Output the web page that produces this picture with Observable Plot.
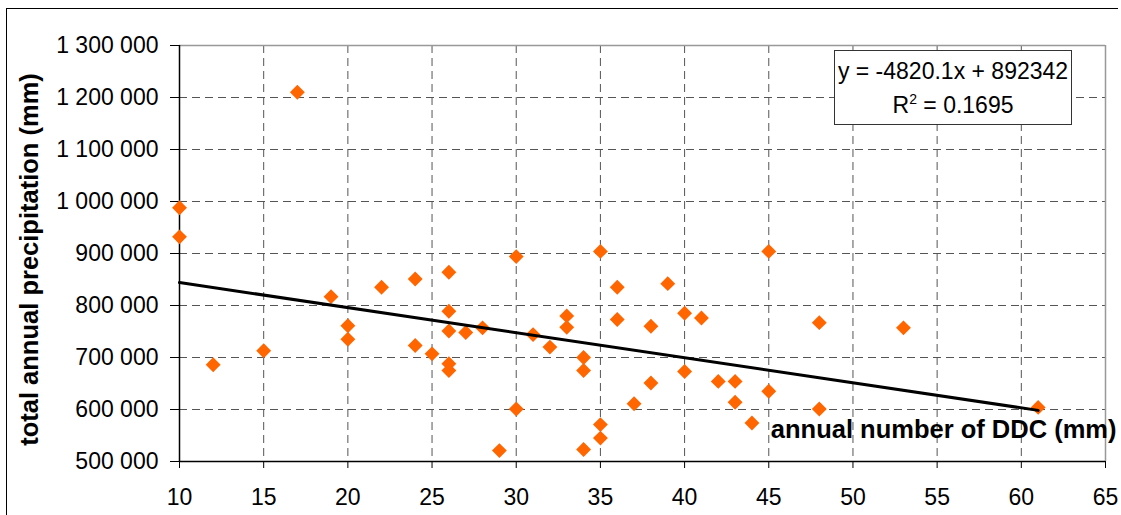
<!DOCTYPE html>
<html>
<head>
<meta charset="utf-8">
<script src="https://cdn.jsdelivr.net/npm/d3@7"></script>
<script src="https://cdn.jsdelivr.net/npm/@observablehq/plot@0.6"></script>
<style>
  html, body { margin: 0; padding: 0; background: #fff; }
  #wrap { position: relative; width: 1121px; height: 515px; overflow: hidden; font-family: "Liberation Sans", Arial, sans-serif; }
  #chart { position: absolute; left: 0; top: 0; }
  #border { position: absolute; left: 6px; top: 8px; width: 1111px; height: 600px; border-top: 1.5px solid #000; border-left: 1.5px solid #000; pointer-events: none; }
  #eq { position: absolute; left: 834px; top: 50px; width: 238px; height: 75px; border: 1px solid #333; background: #fff; text-align: center; font-size: 23px; color: #000; padding-top: 4px; box-sizing: border-box; }
  #eq div { line-height: 33.7px; white-space: nowrap; }
  #eq sup { font-size: 14px; line-height: 0; vertical-align: 9px; }
</style>
</head>
<body>
<div id="wrap">
  <div id="chart"></div>
  <div id="border"></div>
  <div id="eq"><div>y = -4820.1x + 892342</div><div>R<sup>2</sup> = 0.1695</div></div>
</div>
<script>
// Data
const ddc = [10,10,12,15,17,19,20,20,22,24,24,25,26,26,26,26,26,27,28,29,30,30,31,32,33,33,34,34,34,35,35,35,36,36,37,38,38,39,40,40,41,42,43,43,44,45,45,48,48,53,61];
const precipitation = [988000,932000,686000,713000,1210000,817000,761000,735000,835000,851000,723000,707000,864000,789000,751000,688000,675000,748000,757000,521000,894000,601000,744000,720000,780000,758000,700000,675000,523000,904000,571000,545000,835000,773000,611000,760000,651000,842000,785000,673000,776000,654000,654000,614000,574000,904000,635000,767000,601000,757000,604000];

// Trendline from the stated equation
const slope = -4820.1;
const intercept = 892342;
const trendRange = [10, 61];

const xTicks = [10,15,20,25,30,35,40,45,50,55,60,65];
const yTicks = [500000,600000,700000,800000,900000,1000000,1100000,1200000,1300000];
const xGrid = [15,20,25,30,35,40,45,50,55,60];
const yGrid = [600000,700000,800000,900000,1000000,1100000,1200000];

const xTitle = "annual number of DDC (mm)";
const yTitle = "total annual precipitation (mm)";

const points = ddc.map((x, i) => ({x, y: precipitation[i]}));
const trend = trendRange.map(x => ({x, y: slope * x + intercept}));
const fmt = d => d3.format(",")(d).replace(/,/g, " ");

const chart = Plot.plot({
  width: 1121,
  height: 515,
  marginLeft: 179,
  marginRight: 16,
  marginTop: 45,
  marginBottom: 54,
  x: {domain: [10, 65]},
  y: {domain: [500000, 1300000]},
  style: {fontFamily: "'Liberation Sans', Arial, sans-serif", fontSize: "23px", color: "#000", background: "transparent", overflow: "visible"},
  marks: [
    Plot.ruleX(xGrid, {stroke: "#555", strokeDasharray: "8,5", strokeWidth: 1}),
    Plot.ruleY(yGrid, {stroke: "#555", strokeDasharray: "8,5", strokeWidth: 1}),
    Plot.ruleY([1300000], {stroke: "#999", strokeWidth: 1.5}),
    Plot.ruleX([65], {stroke: "#999", strokeWidth: 1.5}),
    Plot.ruleX([10], {stroke: "#000", strokeWidth: 1.5}),
    Plot.ruleY([500000], {stroke: "#000", strokeWidth: 1.5}),
    Plot.axisY({ticks: yTicks, tickSize: 9, tickPadding: 12, tickFormat: fmt, fontSize: 23, label: null}),
    Plot.axisX({ticks: xTicks, tickSize: 7, tickPadding: 20, fontSize: 23, label: null}),
    Plot.dot(points, {x: "x", y: "y", symbol: "diamond2", r: 6.7, fill: "#ff6600", stroke: "none"}),
    Plot.line(trend, {x: "x", y: "y", stroke: "#000", strokeWidth: 3}),
    Plot.text([yTitle], {text: d => d, frameAnchor: "left", textAnchor: "middle", rotate: -90, dx: -149.6, dy: 6, fontWeight: "bold", fontSize: 25.5}),
    Plot.text([xTitle], {text: d => d, frameAnchor: "bottom-right", textAnchor: "end", dx: 11, dy: -24, fontWeight: "bold", fontSize: 25.5})
  ]
});
document.getElementById("chart").appendChild(chart);
</script>
</body>
</html>
